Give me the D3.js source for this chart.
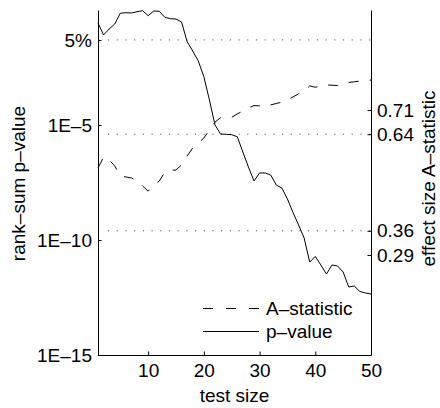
<!DOCTYPE html>
<html><head><meta charset="utf-8">
<script src="https://cdn.jsdelivr.net/npm/d3@7"></script>
<style>
body{margin:0;background:#fff}
svg{display:block}
text{font-family:"Liberation Sans",Arial,Helvetica,sans-serif;font-size:19px;fill:#000}
</style>
</head><body>
<svg id="c" width="440" height="408"></svg>
<script>
const testSize = [1,2,3,4,5,6,7,8,9,10,11,12,13,14,15,16,17,18,19,20,21,22,23,24,25,
  26,27,28,29,30,31,32,33,34,35,36,37,38,39,40,41,42,43,44,45,46,47,48,49,50];
const pValue = [0.272,0.0818,0.149,0.246,0.72,0.764,0.741,0.844,0.933,0.565,
  0.906,0.877,0.482,0.419,0.406,0.30,0.0419,0.0165,0.00607,1.26e-3,
  1.22e-4,1e-5,4.06e-6,3.94e-6,3.79e-6,3.1e-6,6.7e-7,1.49e-7,3.67e-8,8.2e-8,
  8.2e-8,6.7e-8,2.46e-8,1.82e-8,6.07e-9,1.57e-9,4.49e-10,1.22e-10,1.1e-11,1.92e-11,
  8.2e-12,3.3e-12,8.2e-12,7.4e-12,4.06e-12,9.06e-13,1e-12,5.77e-13,4.97e-13,4.49e-13];
const aStatistic = [0.542,0.574,0.565,0.548,0.519,0.516,0.513,0.506,0.490,0.475,
  0.493,0.504,0.530,0.536,0.536,0.551,0.577,0.600,0.614,0.629,
  0.652,0.675,0.688,0.689,0.689,0.699,0.707,0.716,0.723,0.722,
  0.720,0.725,0.729,0.733,0.739,0.748,0.757,0.765,0.780,0.776,
  0.780,0.783,0.782,0.781,0.786,0.790,0.792,0.794,0.795,0.797];
const xTicks = [10,20,30,40,50];
const leftTicks = [0.05,1e-5,1e-10,1e-15];
const leftTickLabels = ["5%","1E\u20135","1E\u201310","1E\u201315"];
const rightTicks = [0.71,0.64,0.36,0.29];
const rightTickLabels = ["0.71","0.64","0.36","0.29"];
const gridLeft = [0.05];
const gridRight = [0.64,0.36];
const seriesNames = ["A\u2013statistic","p\u2013value"];

const svg = d3.select("#c");
const L=98, R=371, T=10, B=355;
const x = d3.scaleLinear().domain([1,50]).range([L,R]);
const yL = d3.scaleLog().domain([1e-15,1]).range([B,T]);
const yR = d3.scaleLinear().domain([0,1]).range([B,T]);

// grid dotted lines
const grid = svg.append("g").attr("stroke","#555").attr("stroke-width",1).attr("stroke-dasharray","1.2,7.5");
gridLeft.forEach(v=>grid.append("line").attr("x1",L+10).attr("x2",R).attr("y1",yL(v)).attr("y2",yL(v)));
gridRight.forEach(v=>grid.append("line").attr("x1",L+10).attr("x2",R).attr("y1",yR(v)).attr("y2",yR(v)));

// data lines
const pts = testSize.map((n,i)=>({n,p:pValue[i],a:aStatistic[i]}));
svg.append("path").datum(pts)
  .attr("fill","none").attr("stroke","#000").attr("stroke-width",1)
  .attr("d",d3.line().x(d=>x(d.n)).y(d=>yL(d.p)));
svg.append("path").datum(pts)
  .attr("fill","none").attr("stroke","#000").attr("stroke-width",1)
  .attr("stroke-dasharray","10,11")
  .attr("d",d3.line().x(d=>x(d.n)).y(d=>yR(d.a)));

// axes
function style(g){
  g.selectAll("text").attr("font-size",19).attr("font-family",'"Liberation Sans",Arial,Helvetica,sans-serif').attr("fill","#000");
  g.selectAll("line,path").attr("stroke","#000");
  g.attr("font-size",19);
}
svg.append("g").attr("transform",`translate(${L},0)`)
  .call(d3.axisLeft(yL).tickValues(leftTicks).tickFormat((d,i)=>leftTickLabels[i])
    .tickSizeInner(-3.5).tickSizeOuter(0).tickPadding(6)).call(style);
svg.append("g").attr("transform",`translate(${R},0)`)
  .call(d3.axisRight(yR).tickValues(rightTicks).tickFormat((d,i)=>rightTickLabels[i])
    .tickSizeInner(-3.5).tickSizeOuter(0).tickPadding(6)).call(style);
svg.append("g").attr("transform",`translate(0,${B})`)
  .call(d3.axisBottom(x).tickValues(xTicks).tickFormat(d3.format("d"))
    .tickSizeInner(-3.5).tickSizeOuter(0).tickPadding(9)).call(style);

// axis titles
svg.append("text").attr("x",(L+R)/2).attr("y",402).attr("text-anchor","middle").text("test size");
svg.append("text").attr("transform",`translate(25,${(T+B)/2+1}) rotate(-90)`).attr("text-anchor","middle").text("rank\u2013sum p\u2013value");
svg.append("text").attr("transform",`translate(435,${(T+B)/2-4}) rotate(-90)`).attr("text-anchor","middle").text("effect size A\u2013statistic");

// legend
const lg = svg.append("g");
lg.append("line").attr("x1",203).attr("x2",259).attr("y1",308.5).attr("y2",308.5)
  .attr("stroke","#000").attr("stroke-dasharray","10,13");
lg.append("text").attr("x",266).attr("y",314.5).text(seriesNames[0]);
lg.append("line").attr("x1",203).attr("x2",259).attr("y1",331.5).attr("y2",331.5)
  .attr("stroke","#000");
lg.append("text").attr("x",266).attr("y",337.5).text(seriesNames[1]);
</script>
</body></html>
